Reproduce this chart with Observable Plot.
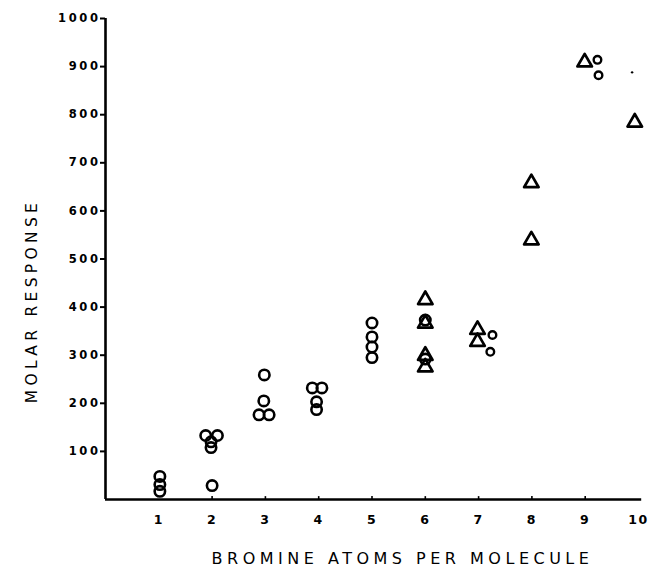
<!DOCTYPE html>
<html>
<head>
<meta charset="utf-8">
<script src="https://cdn.jsdelivr.net/npm/d3@7"></script>
<script src="https://cdn.jsdelivr.net/npm/@observablehq/plot@0.6"></script>
<style>
  html, body { margin: 0; padding: 0; background: #fff; }
  #chart svg { display: block; }
  .ytl text { letter-spacing: 2.6px; }
  .xtl text { letter-spacing: 1.5px; }
  .ttl text { letter-spacing: 4.3px; }
  .ttlx text { letter-spacing: 4.5px; }
</style>
</head>
<body>
<div id="chart"></div>
<script>
// Circles (open)
const circleX = [1.02, 1.02, 1.02, 1.88, 2.10, 1.98, 1.98, 2.0, 2.98, 2.88, 3.07, 2.97, 3.88, 4.06, 3.96, 3.96, 5.0, 5.0, 5.0, 5.0, 6.0, 6.0];
const circleY = [48, 31, 17, 133, 133, 120, 108, 29, 259, 176, 176, 205, 232, 232, 203, 187, 367, 338, 317, 295, 373, 292];
// Triangles (open)
const triX = [6.0, 6.0, 6.0, 6.0, 6.98, 6.98, 7.99, 7.99, 8.99, 9.93];
const triY = [415, 366, 299, 275, 353, 328, 658, 539, 909, 784];
// Small labelled points (a, b)
const smallX = [7.26, 7.22, 9.23, 9.25];
const smallY = [342, 307, 914, 882];
// Tiny dot near 10
const speckX = [9.88];
const speckY = [888];
// Axis ticks
const yTicks = [100, 200, 300, 400, 500, 600, 700, 800, 900, 1000];
const xTicks = [1, 2, 3, 4, 5, 6, 7, 8, 9, 10];
const xInnerTicks = [2, 3, 4, 5, 6, 7, 8, 9];
const xTitle = "BROMINE ATOMS PER MOLECULE";
const yTitle = "MOLAR RESPONSE";

const circles = circleX.map((x, i) => ({x, y: circleY[i]}));
const tris = triX.map((x, i) => ({x, y: triY[i]}));
const smalls = smallX.map((x, i) => ({x, y: smallY[i]}));
const specks = speckX.map((x, i) => ({x, y: speckY[i]}));

const chart = Plot.plot({
  width: 649,
  height: 575,
  marginLeft: 105,
  marginRight: 8,
  marginTop: 18,
  marginBottom: 76,
  style: {fontFamily: "DejaVu Sans", color: "#000", background: "#fff"},
  x: {domain: [0, 10], range: [105, 638], axis: null},
  y: {domain: [0, 1000], range: [499, 18], axis: null},
  marks: [
    // axis lines
    Plot.ruleY([0], {x1: 0, x2: 10.06, stroke: "#000", strokeWidth: 2.6}),
    Plot.ruleX([0], {y1: 0, y2: 1000, stroke: "#000", strokeWidth: 2.6}),
    // small inner ticks on x axis
    Plot.ruleX(xInnerTicks, {y1: 0, y2: 6, stroke: "#000", strokeWidth: 1.6}),
    Plot.axisY({ticks: yTicks, tickSize: 5, tickPadding: 0, tickFormat: d => String(d), label: null,
      fontSize: 11.5, fontWeight: "bold", strokeWidth: 2, className: "ytl"}),
    Plot.axisX({ticks: xTicks, tickSize: 0, tickPadding: 16, tickFormat: d => String(d), label: null,
      fontSize: 12.5, fontWeight: "bold", className: "xtl"}),
    // data
    Plot.dot(circles, {x: "x", y: "y", r: 5.2, symbol: "circle", stroke: "#000", strokeWidth: 2.6, fill: "none"}),
    Plot.dot(tris, {x: "x", y: "y", r: 5.4, symbol: "triangle", stroke: "#000", strokeWidth: 2.7, strokeLinejoin: "round", fill: "none"}),
    Plot.dot(smalls, {x: "x", y: "y", r: 3.8, symbol: "circle", stroke: "#000", strokeWidth: 2.4, fill: "none"}),
    Plot.dot(specks, {x: "x", y: "y", r: 1.2, fill: "#000", stroke: "none"}),
    // titles
    Plot.text([yTitle], {frameAnchor: "left", textAnchor: "middle", dx: -73, dy: 42, rotate: -90, fontSize: 15.5, fill: "#000", className: "ttl"}),
    Plot.text([xTitle], {frameAnchor: "bottom", textAnchor: "middle", dx: 29, dy: 64, fontSize: 16, fill: "#000", className: "ttlx"})
  ]
});
document.getElementById("chart").appendChild(chart);
</script>
</body>
</html>
